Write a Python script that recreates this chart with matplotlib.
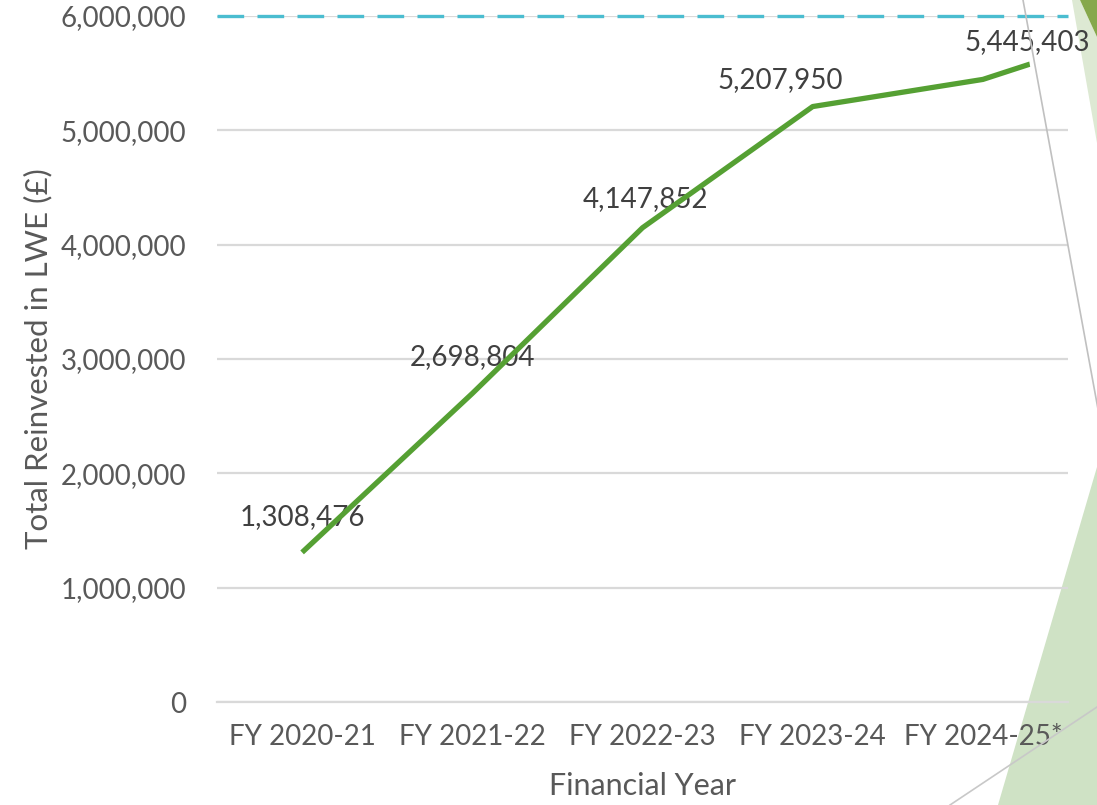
import matplotlib
matplotlib.use("Agg")
import matplotlib.pyplot as plt
from matplotlib.patches import Polygon
from matplotlib.lines import Line2D
from matplotlib.transforms import IdentityTransform

# data
years = ["FY 2020-21", "FY 2021-22", "FY 2022-23", "FY 2023-24", "FY 2024-25*"]
reinvested = [1308476, 2698804, 4147852, 5207950, 5445403]
# the series runs on past the last category and is cut by the slide edge
next_value = 5930000
target = 6000000

# label offsets in pixels (dx, dy) from each point
label_offsets = [(0, 35), (0, 36), (3, 29), (-32, 27), (44, 37)]

W, H = 1097, 805
plt.rcParams['font.family'] = ['Lato', 'DejaVu Sans']

fig = plt.figure(figsize=(W / 100, H / 100), dpi=100)
ax = fig.add_axes([217 / W, 1 - 702 / H, (1068 - 217) / W, (702 - 16) / H])
ax.patch.set_visible(False)

xs = list(range(len(years)))
ax.set_xlim(-0.5, len(years) - 0.5)
ax.set_ylim(0, 6000000)
ax.set_yticks(range(0, 6000001, 1000000))
ax.set_yticklabels([f"{v:,}" for v in range(0, 6000001, 1000000)])
ax.set_xticks(xs)
ax.set_xticklabels(years)

ax.grid(axis='y', color='#d9d9d9', linewidth=1.6)
ax.set_axisbelow(True)
for side in ['top', 'right', 'left']:
    ax.spines[side].set_visible(False)
ax.spines['bottom'].set_color('#d9d9d9')
ax.spines['bottom'].set_linewidth(1.6)
ax.tick_params(length=0, labelsize=20, labelcolor='#595959')
ax.tick_params(axis='y', pad=22)
ax.tick_params(axis='x', pad=16)

ax.set_ylabel("Total Reinvested in LWE (£)", fontsize=22.5, color='#595959', labelpad=6)
ax.set_xlabel("Financial Year", fontsize=22, color='#595959', labelpad=16)

# target line
ax.axhline(target, color='#4bbdd0', linewidth=2.4, dashes=(8, 4), clip_on=False, zorder=3)

# data labels (under the line, as in the source)
for x, v, (dx, dy) in zip(xs, reinvested, label_offsets):
    ax.annotate(f"{v:,}", (x, v), xytext=(dx, dy), textcoords='offset pixels',
                ha='center', va='center', fontsize=20, color='#404040', zorder=2)

# the series, cut where the slide's grey edge line crosses it
line, = ax.plot(xs + [len(years)], reinvested + [next_value], color='#55a033',
                linewidth=3.8, solid_capstyle='butt', zorder=4)
edge = Polygon([(0, 0), (0, H), (1018, H), (1018 + 0.183 * H, 0)], closed=True)
line.set_clip_path(edge.get_path(), IdentityTransform())


# slide decorations on the right edge (pixel coords from top-left)
def fx(px):
    return px / W


def fy(py):
    return 1 - py / H


deco = [
    ([(1072, 0), (1080, 0), (1097, 37), (1097, 143)], '#dde9d3'),
    ([(1080, 0), (1097, 0), (1097, 37)], '#86a84c'),
    ([(1097, 467), (1097, 805), (998, 805)], '#cfe2c5'),
]
for pts, col in deco:
    fig.add_artist(Polygon([(fx(a), fy(b)) for a, b in pts], closed=True,
                           transform=fig.transFigure, facecolor=col,
                           edgecolor='none', zorder=-1))
fig.add_artist(Line2D([fx(1023), fx(1100)], [fy(0), fy(420)],
                      transform=fig.transFigure, color='#c0c0c0', linewidth=1.2, zorder=6))
fig.add_artist(Line2D([fx(950), fx(1097)], [fy(805), fy(707)],
                      transform=fig.transFigure, color='#c8c8c8', linewidth=1.2, zorder=6))

fig.savefig("out.png", dpi=100)
